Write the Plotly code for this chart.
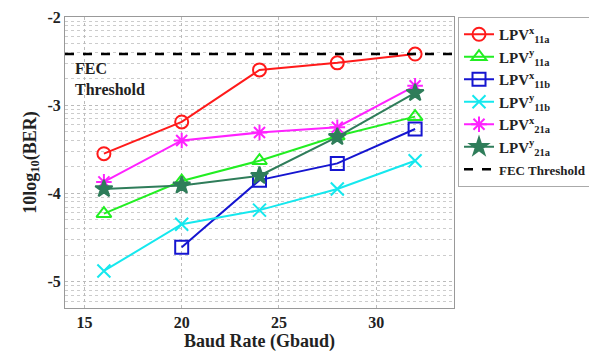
import plotly.graph_objects as go

baud = [16, 20, 24, 28, 32]
lpv11a_x = [-3.55, -3.19, -2.60, -2.52, -2.42]
lpv11a_y = [-4.23, -3.86, -3.63, -3.35, -3.13]
lpv11b_x = [None, -4.61, -3.85, -3.66, -3.27]
lpv11b_y = [-4.88, -4.35, -4.19, -3.95, -3.63]
lpv21a_x = [-3.87, -3.40, -3.31, -3.25, -2.78]
lpv21a_y = [-3.95, -3.91, -3.80, -3.36, -2.86]
fec_threshold = -2.42

y_ticks = [-2, -3, -4, -5]
x_ticks = [15, 20, 25, 30]

FONT = "Liberation Serif"

series = [
    ("LPV<sup>x</sup><sub>11a</sub>", lpv11a_x, "#ff1a1a", "circle-open"),
    ("LPV<sup>y</sup><sub>11a</sub>", lpv11a_y, "#22ee22", "triangle-up-open"),
    ("LPV<sup>x</sup><sub>11b</sub>", lpv11b_x, "#1515d0", "square-open"),
    ("LPV<sup>y</sup><sub>11b</sub>", lpv11b_y, "#15e8ee", "x-thin-open"),
    ("LPV<sup>x</sup><sub>21a</sub>", lpv21a_x, "#ff22ff", "asterisk-open"),
    ("LPV<sup>y</sup><sub>21a</sub>", lpv21a_y, "#2f7d5a", "star"),
]

fig = go.Figure()
for name, vals, color, sym in series:
    ber = [None if v is None else 10 ** v for v in vals]
    fig.add_trace(go.Scatter(
        x=baud, y=ber, name=f"<b>{name}</b>", mode="lines+markers",
        line=dict(color=color, width=2),
        marker=dict(symbol=sym, size=13, color=color,
                    line=dict(color=color, width=2)),
    ))

# legend entry for the FEC threshold
fig.add_trace(go.Scatter(
    x=[None], y=[None],
    name='<span style="font-size:13px"><b>FEC Threshold</b></span>',
    mode="lines",
    line=dict(color="black", width=2.5, dash="dash"),
))
fig.add_shape(type="line", xref="paper", x0=0, x1=1, yref="y",
              y0=10 ** fec_threshold, y1=10 ** fec_threshold,
              line=dict(color="black", width=2.5, dash="dash"))

fig.add_annotation(text="<b>FEC<br>Threshold</b>", xref="paper", yref="paper",
                   x=0.02, y=0.86, xanchor="left", yanchor="top",
                   align="left", showarrow=False,
                   font=dict(family=FONT, size=16, color="#222"))

minor_vals = [k * 10 ** d for d in range(-6, -1) for k in range(2, 10)]

fig.update_layout(
    width=589, height=358,
    margin=dict(l=65, r=135, t=17, b=50, autoexpand=False),
    paper_bgcolor="white", plot_bgcolor="white",
    font=dict(family=FONT, size=16, color="#222"),
    legend=dict(x=1.0103, y=1.0, xanchor="left", yanchor="top",
                bordercolor="#aaaaaa", borderwidth=1,
                font=dict(family=FONT, size=15, color="#222"),
                tracegroupgap=2, itemwidth=30),
    xaxis=dict(range=[14, 34], tickvals=x_ticks,
               ticktext=[f"<b>{t}</b>" for t in x_ticks],
               showgrid=True, gridcolor="#bbbbbb", griddash="dot", gridwidth=1,
               showline=True, linecolor="#999999", mirror=True, ticks="",
               zeroline=False,
               title=dict(text="<b>Baud Rate (Gbaud)</b>", standoff=2,
                          font=dict(family=FONT, size=18))),
    yaxis=dict(type="log", range=[-5.3, -2],
               tickvals=[10 ** t for t in y_ticks],
               ticktext=[f"<b>{t}</b>" for t in y_ticks],
               showgrid=True, gridcolor="#bbbbbb", griddash="dot", gridwidth=1,
               showline=True, linecolor="#999999", mirror=True, ticks="",
               zeroline=False,
               minor=dict(tickmode="array", tickvals=minor_vals,
                          showgrid=True, gridcolor="#cccccc",
                          griddash="dot", gridwidth=1, ticks=""),
               title=dict(text="<b>10log<sub>10</sub>(BER)</b>", standoff=6,
                          font=dict(family=FONT, size=18))),
)

fig.write_html("out.html")
